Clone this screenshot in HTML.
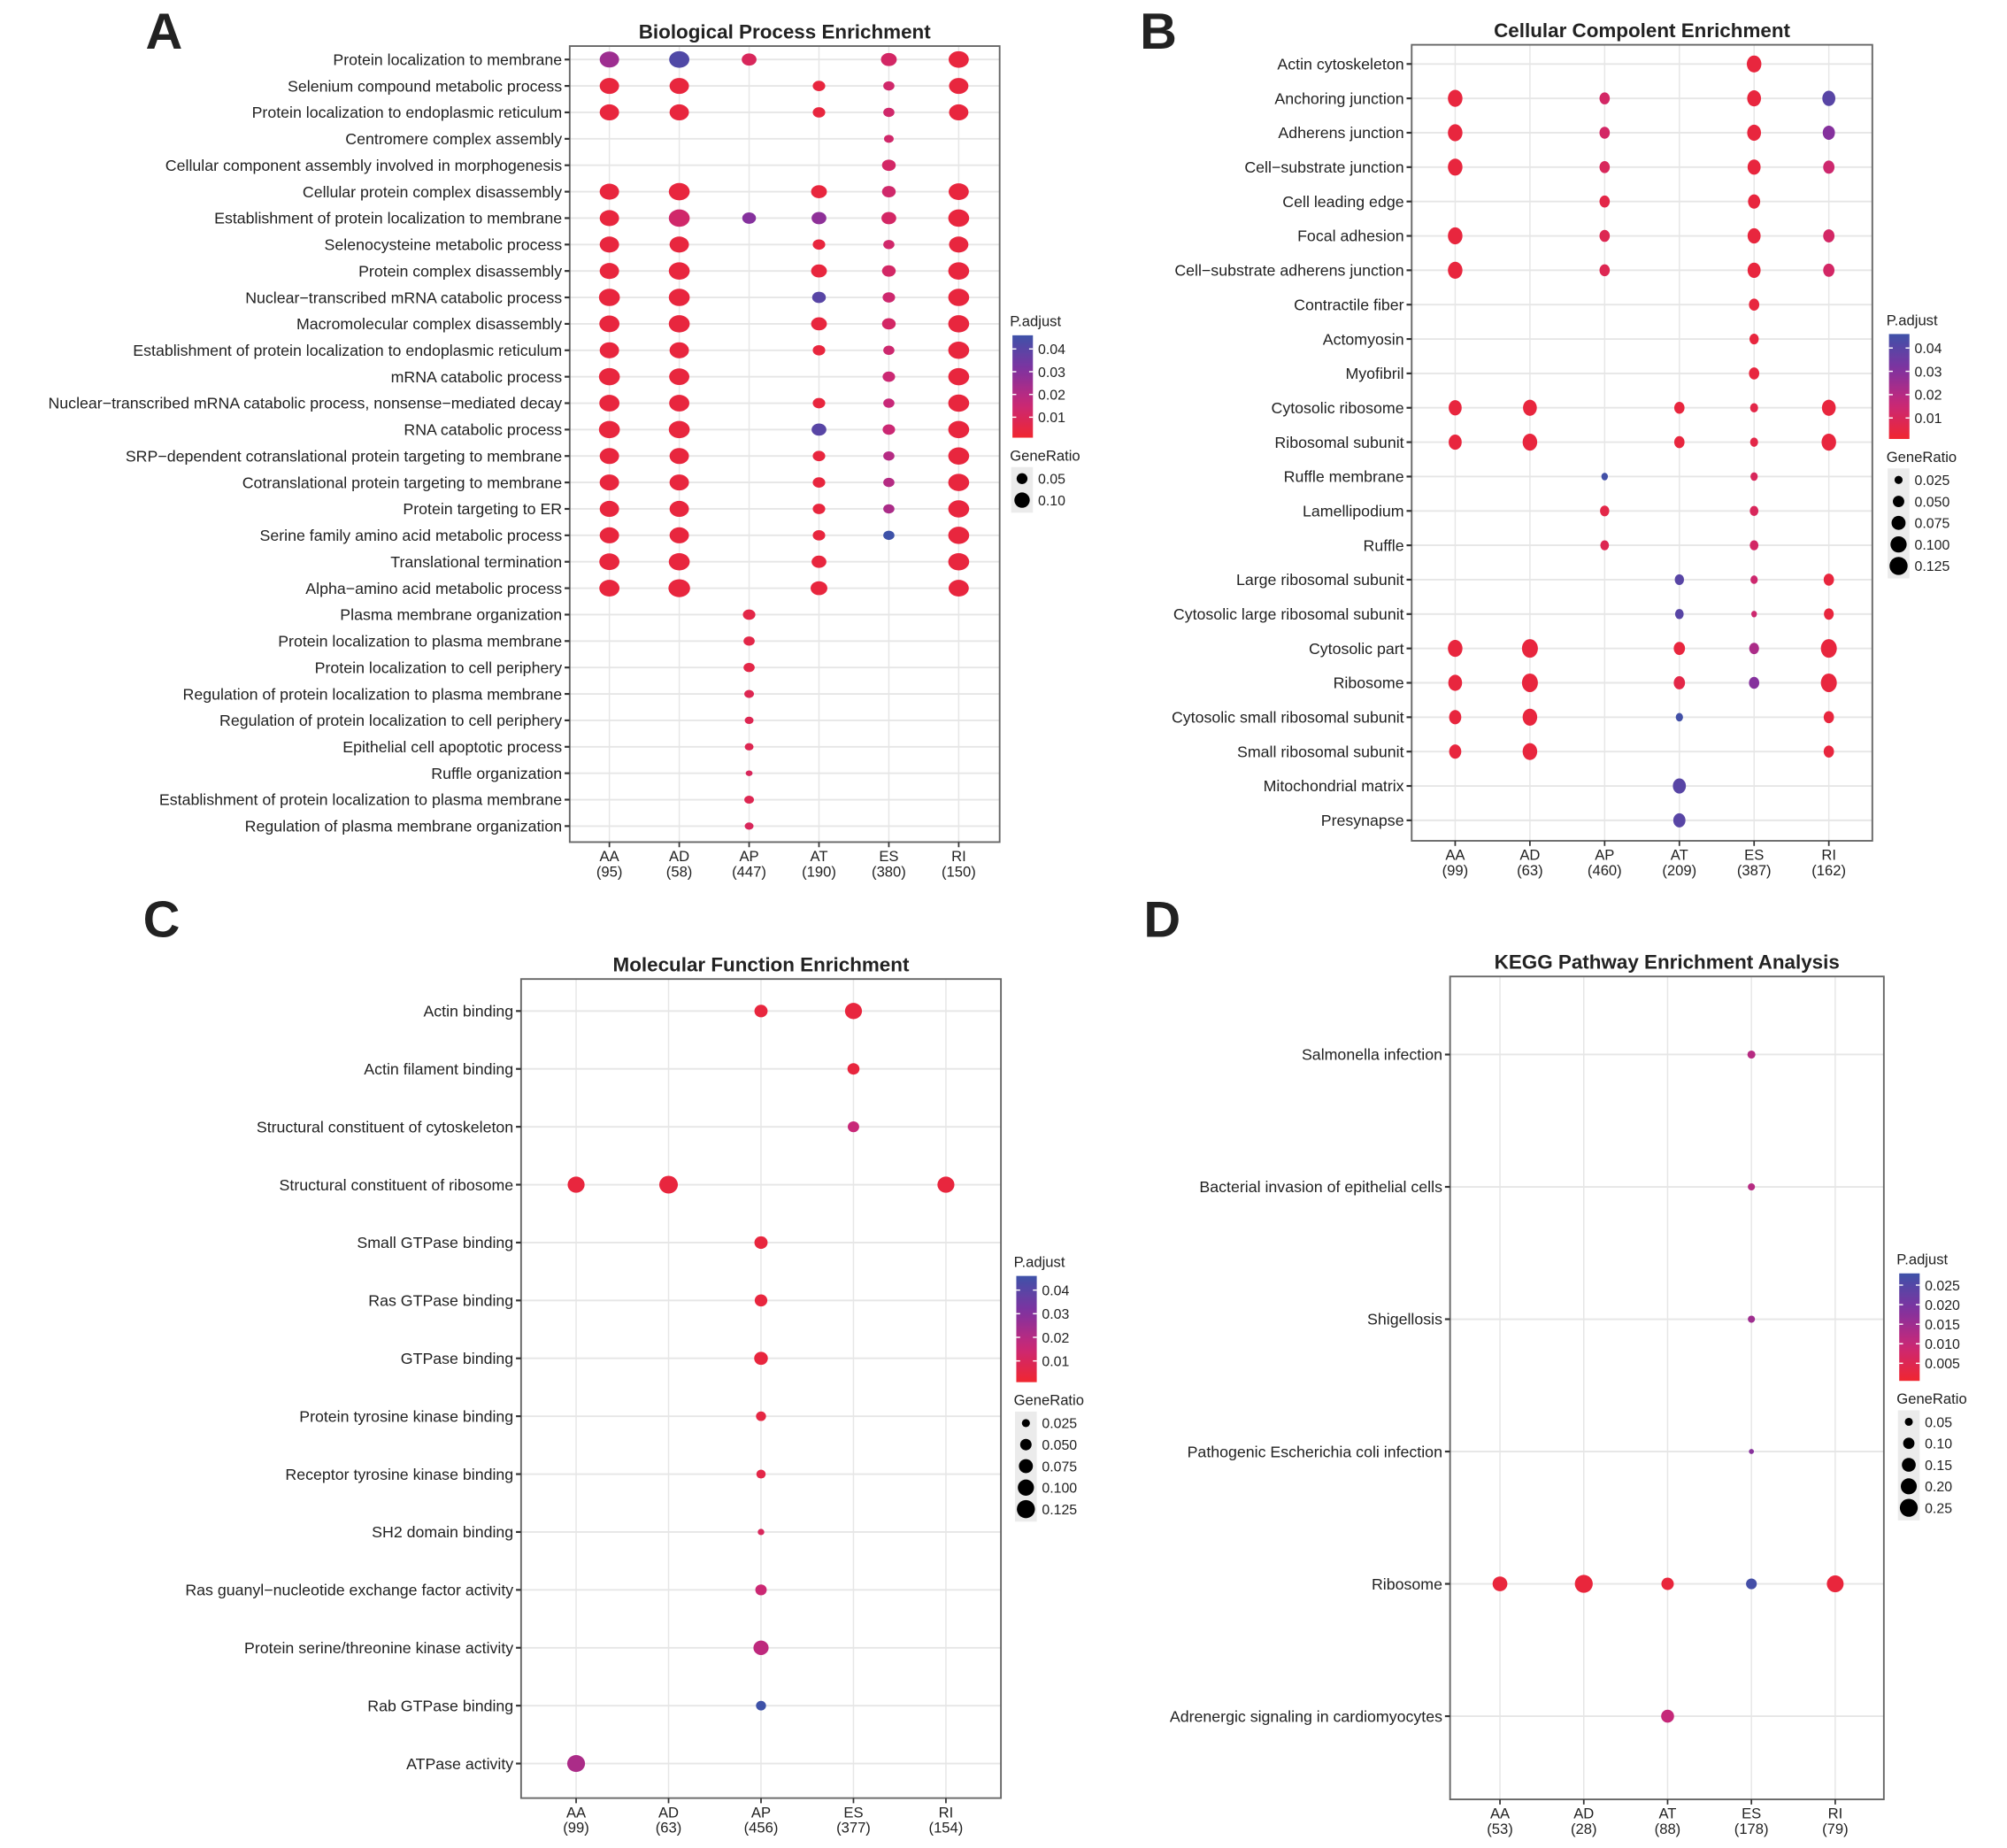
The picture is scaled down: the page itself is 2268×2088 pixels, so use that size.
<!DOCTYPE html>
<html><head><meta charset="utf-8"><style>
html,body{margin:0;padding:0;background:#fff}
svg{display:block}
text{font-family:"Liberation Sans",Arial,sans-serif;fill:#222}
</style></head><body>
<svg id="fig" width="2268" height="2088" viewBox="0 0 1568 1444" xmlns="http://www.w3.org/2000/svg"></svg>
<script>
// ---------- Panel A data ----------
const aRows=["Protein localization to membrane","Selenium compound metabolic process","Protein localization to endoplasmic reticulum","Centromere complex assembly","Cellular component assembly involved in morphogenesis","Cellular protein complex disassembly","Establishment of protein localization to membrane","Selenocysteine metabolic process","Protein complex disassembly","Nuclear\u2212transcribed mRNA catabolic process","Macromolecular complex disassembly","Establishment of protein localization to endoplasmic reticulum","mRNA catabolic process","Nuclear\u2212transcribed mRNA catabolic process, nonsense\u2212mediated decay","RNA catabolic process","SRP\u2212dependent cotranslational protein targeting to membrane","Cotranslational protein targeting to membrane","Protein targeting to ER","Serine family amino acid metabolic process","Translational termination","Alpha\u2212amino acid metabolic process","Plasma membrane organization","Protein localization to plasma membrane","Protein localization to cell periphery","Regulation of protein localization to plasma membrane","Regulation of protein localization to cell periphery","Epithelial cell apoptotic process","Ruffle organization","Establishment of protein localization to plasma membrane","Regulation of plasma membrane organization"];
const aCols=["AA","AD","AP","AT","ES","RI"];
const aCounts=["(95)","(58)","(447)","(190)","(380)","(150)"];
const aRatio=[
[.12,.13,.07,0,.08,.13],[.12,.12,0,.05,.04,.12],[.12,.12,0,.05,.04,.12],[0,0,0,0,.03,0],[0,0,0,0,.06,0],
[.12,.14,0,.08,.06,.13],[.12,.14,.06,.07,.07,.14],[.12,.12,0,.05,.04,.12],[.12,.14,0,.08,.06,.14],[.14,.14,0,.06,.05,.14],
[.13,.14,0,.08,.06,.14],[.12,.12,0,.05,.04,.14],[.14,.13,0,0,.05,.14],[.13,.13,0,.05,.04,.14],[.14,.14,0,.07,.05,.14],
[.12,.12,0,.05,.04,.14],[.12,.12,0,.05,.04,.14],[.12,.12,0,.05,.04,.14],[.12,.12,0,.05,.04,.14],[.13,.14,0,.07,0,.14],
[.13,.15,0,.09,0,.13],[0,0,.05,0,0,0],[0,0,.04,0,0,0],[0,0,.04,0,0,0],[0,0,.03,0,0,0],[0,0,.025,0,0,0],[0,0,.025,0,0,0],[0,0,.015,0,0,0],[0,0,.03,0,0,0],[0,0,.025,0,0,0]];
const aPadj=[
[.025,.042,.01,0,.012,.004],[.004,.004,0,.004,.013,.004],[.004,.004,0,.004,.013,.004],[0,0,0,0,.013,0],[0,0,0,0,.012,0],
[.004,.004,0,.004,.013,.004],[.004,.013,.03,.028,.012,.004],[.004,.004,0,.004,.013,.004],[.004,.004,0,.004,.012,.004],[.004,.004,0,.04,.014,.004],
[.004,.004,0,.004,.012,.004],[.004,.004,0,.004,.014,.004],[.004,.004,0,0,.015,.004],[.004,.004,0,.004,.016,.004],[.004,.004,0,.04,.015,.004],
[.004,.004,0,.004,.02,.004],[.004,.004,0,.004,.02,.004],[.004,.004,0,.004,.022,.004],[.004,.004,0,.004,.046,.004],[.004,.004,0,.004,0,.004],
[.004,.004,0,.004,0,.004],[0,0,.006,0,0,0],[0,0,.006,0,0,0],[0,0,.006,0,0,0],[0,0,.008,0,0,0],[0,0,.008,0,0,0],[0,0,.008,0,0,0],[0,0,.01,0,0,0],[0,0,.008,0,0,0],[0,0,.01,0,0,0]];
const aPTicks=[0.01,0.02,0.03,0.04];
const aSizeTicks=[0.05,0.10];
const aSizeLabels=["0.05","0.10"];

// ---------- Panel B data ----------
const bRows=["Actin cytoskeleton","Anchoring junction","Adherens junction","Cell\u2212substrate junction","Cell leading edge","Focal adhesion","Cell\u2212substrate adherens junction","Contractile fiber","Actomyosin","Myofibril","Cytosolic ribosome","Ribosomal subunit","Ruffle membrane","Lamellipodium","Ruffle","Large ribosomal subunit","Cytosolic large ribosomal subunit","Cytosolic part","Ribosome","Cytosolic small ribosomal subunit","Small ribosomal subunit","Mitochondrial matrix","Presynapse"];
const bCols=["AA","AD","AP","AT","ES","RI"];
const bCounts=["(99)","(63)","(460)","(209)","(387)","(162)"];
const bRatio=[
[0,0,0,0,.10,0],[.10,0,.05,0,.09,.08],[.10,0,.05,0,.09,.07],[.10,0,.05,0,.08,.06],[0,0,.05,0,.07,0],[.10,0,.05,0,.08,.06],[.10,0,.05,0,.08,.06],
[0,0,0,0,.05,0],[0,0,0,0,.04,0],[0,0,0,0,.05,0],[.08,.09,0,.05,.03,.09],[.08,.10,0,.05,.03,.10],[0,0,.02,0,.025,0],[0,0,.04,0,.035,0],[0,0,.035,0,.035,0],
[0,0,0,.04,.025,.05],[0,0,0,.035,.015,.045],[.10,.12,0,.06,.045,.12],[.09,.12,0,.06,.05,.12],[.07,.10,0,.025,0,.05],[.07,.10,0,0,0,.05],[0,0,0,.08,0,0],[0,0,0,.07,0,0]];
const bPadj=[
[0,0,0,0,.004,0],[.004,0,.012,0,.004,.04],[.004,0,.012,0,.004,.03],[.004,0,.01,0,.004,.014],[0,0,.006,0,.004,0],[.004,0,.008,0,.004,.012],[.004,0,.008,0,.004,.012],
[0,0,0,0,.004,0],[0,0,0,0,.004,0],[0,0,0,0,.004,0],[.004,.004,0,.004,.006,.004],[.004,.004,0,.004,.006,.004],[0,0,.045,0,.01,0],[0,0,.006,0,.01,0],[0,0,.008,0,.012,0],
[0,0,0,.04,.014,.004],[0,0,0,.04,.014,.004],[.004,.004,0,.004,.022,.004],[.004,.004,0,.006,.03,.004],[.004,.004,0,.045,0,.004],[.004,.004,0,0,0,.004],[0,0,0,.04,0,0],[0,0,0,.04,0,0]];
const bPTicks=[0.01,0.02,0.03,0.04];
const bSizeTicks=[0.025,0.05,0.075,0.1,0.125];
const bSizeLabels=["0.025","0.050","0.075","0.100","0.125"];

// ---------- Panel C data ----------
const cRows=["Actin binding","Actin filament binding","Structural constituent of cytoskeleton","Structural constituent of ribosome","Small GTPase binding","Ras GTPase binding","GTPase binding","Protein tyrosine kinase binding","Receptor tyrosine kinase binding","SH2 domain binding","Ras guanyl\u2212nucleotide exchange factor activity","Protein serine/threonine kinase activity","Rab GTPase binding","ATPase activity"];
const cCols=["AA","AD","AP","ES","RI"];
const cCounts=["(99)","(63)","(456)","(377)","(154)"];
const cRatio=[[0,0,.06,.10,0],[0,0,0,.05,0],[0,0,0,.045,0],[.10,.12,0,0,.10],[0,0,.06,0,0],[0,0,.055,0,0],[0,0,.065,0,0],[0,0,.035,0,0],[0,0,.03,0,0],[0,0,.015,0,0],[0,0,.045,0,0],[0,0,.08,0,0],[0,0,.035,0,0],[.11,0,0,0,0]];
const cPadj=[[0,0,.004,.004,0],[0,0,0,.004,0],[0,0,0,.016,0],[.004,.004,0,0,.004],[0,0,.004,0,0],[0,0,.004,0,0],[0,0,.004,0,0],[0,0,.005,0,0],[0,0,.006,0,0],[0,0,.01,0,0],[0,0,.015,0,0],[0,0,.018,0,0],[0,0,.046,0,0],[.022,0,0,0,0]];
const cPTicks=[0.01,0.02,0.03,0.04];
const cSizeTicks=[0.025,0.05,0.075,0.1,0.125];
const cSizeLabels=["0.025","0.050","0.075","0.100","0.125"];

// ---------- Panel D data ----------
const dRows=["Salmonella infection","Bacterial invasion of epithelial cells","Shigellosis","Pathogenic Escherichia coli infection","Ribosome","Adrenergic signaling in cardiomyocytes"];
const dCols=["AA","AD","AT","ES","RI"];
const dCounts=["(53)","(28)","(88)","(178)","(79)"];
const dRatio=[[0,0,0,.05,0],[0,0,0,.04,0],[0,0,0,.04,0],[0,0,0,.02,0],[.17,.25,.12,.09,.22],[0,0,.13,0,0]];
const dPadj=[[0,0,0,.012,0],[0,0,0,.012,0],[0,0,0,.015,0],[0,0,0,.018,0],[.002,.002,.002,.027,.002],[0,0,.01,0,0]];
const dPTicks=[0.005,0.01,0.015,0.02,0.025];
const dPLabels=["0.005","0.010","0.015","0.020","0.025"];
const dSizeTicks=[0.05,0.1,0.15,0.2,0.25];
const dSizeLabels=["0.05","0.10","0.15","0.20","0.25"];

const NS="http://www.w3.org/2000/svg";
const svg=document.getElementById('fig');
function mk(tag,attrs,parent){const e=document.createElementNS(NS,tag);for(const k in attrs)e.setAttribute(k,attrs[k]);(parent||svg).appendChild(e);return e;}
function lerp(a,b,t){return Math.round(a+(b-a)*t);}
function pcol(p,pmin,pmax){let t=(p-pmin)/(pmax-pmin);t=Math.max(0,Math.min(1,t));
  const s=[[240,38,48],[200,40,120],[128,50,160],[62,82,168]];
  const f=t*3,i=Math.min(2,Math.floor(f)),u=f-i;
  return `rgb(${lerp(s[i][0],s[i+1][0],u)},${lerp(s[i][1],s[i+1][1],u)},${lerp(s[i][2],s[i+1][2],u)})`;}

function panel(o){
  const g=mk('g',{});
  
  
  const nr=o.rows.length,nc=o.cols.length;
  const yS=i=>o.y0+(o.y1-o.y0)*i/(nr-1);
  const xS=j=>o.x0+(o.x1-o.x0)*j/(nc-1);
  const rS=v=>o.k*Math.sqrt(v);
  const L=mk('text',{x:o.lx,y:o.ly,'font-size':40,'font-weight':'bold','text-anchor':'middle'},g);L.textContent=o.letter;
  
  const T=mk('text',{x:(o.bx0+o.bx1)/2,y:o.by0-6,'font-size':15.5,'font-weight':'bold','text-anchor':'middle'},g);T.textContent=o.title;
  
  for(let i=0;i<nr;i++){const l=mk('line',{x1:o.bx0,x2:o.bx1,y1:yS(i),y2:yS(i),stroke:'#e6e6e6','stroke-width':1.3},g);
    }
  for(let j=0;j<nc;j++){const l=mk('line',{x1:xS(j),x2:xS(j),y1:o.by0,y2:o.by1,stroke:'#e6e6e6','stroke-width':1},g);
    }
  const b=mk('rect',{x:o.bx0,y:o.by0,width:o.bx1-o.bx0,height:o.by1-o.by0,fill:'none',stroke:'#666','stroke-width':1.3},g);
  
  for(let i=0;i<nr;i++){
    const t=mk('text',{x:o.bx0-6,y:yS(i)+4.3,'font-size':o.fs,'text-anchor':'end'},g);t.textContent=o.rows[i];
    
    mk('line',{x1:o.bx0-4,x2:o.bx0,y1:yS(i),y2:yS(i),stroke:'#333','stroke-width':1.5},g);
  }
  for(let j=0;j<nc;j++){
    mk('line',{x1:xS(j),x2:xS(j),y1:o.by1,y2:o.by1+4,stroke:'#333','stroke-width':1.2},g);
    const t=mk('text',{x:xS(j),y:o.by1+15,'font-size':11.5,'text-anchor':'middle'},g);t.textContent=o.cols[j];
    
    const c=mk('text',{x:xS(j),y:o.by1+27,'font-size':11.5,'text-anchor':'middle'},g);c.textContent=o.counts[j];
    
  }
  for(let i=0;i<nr;i++)for(let j=0;j<nc;j++){const v=o.ratio[i][j];if(!v)continue;
    const r=rS(v);
    const e=mk('ellipse',{cx:xS(j),cy:yS(i),rx:r*o.ax,ry:r*o.ay,fill:pcol(o.padj[i][j],o.pmin,o.pmax)},g);
    }
  const gid='grad'+o.letter;
  const defs=mk('defs',{},g);const lg=mk('linearGradient',{id:gid,x1:0,y1:1,x2:0,y2:0},defs);
  for(let s=0;s<=10;s++)mk('stop',{offset:s/10,'stop-color':pcol(o.pmin+(o.pmax-o.pmin)*s/10,o.pmin,o.pmax)},lg);
  const pt=mk('text',{x:o.legx,y:o.legy,'font-size':11.5},g);pt.textContent='P.adjust';
  
  const cbTop=o.legy+7,cbH=o.cbH;
  const cb=mk('rect',{x:o.legx+2,y:cbTop,width:16,height:cbH,fill:`url(#${gid})`},g);
  
  const pY=p=>cbTop+cbH*(1-(p-o.pmin)/(o.pmax-o.pmin));
  o.pticks.forEach((p,k)=>{const y=pY(p);
    mk('line',{x1:o.legx+2,x2:o.legx+5,y1:y,y2:y,stroke:'#fff'},g);mk('line',{x1:o.legx+15,x2:o.legx+18,y1:y,y2:y,stroke:'#fff'},g);
    const t=mk('text',{x:o.legx+22,y:y+4,'font-size':11},g);t.textContent=o.plabels?o.plabels[k]:p.toFixed(2);
    });
  const sy=cbTop+cbH+18;
  const st=mk('text',{x:o.legx,y:sy,'font-size':11.5},g);st.textContent='GeneRatio';
  
  const n=o.sticks.length;
  const kb=mk('rect',{x:o.legx+1,y:sy+5,width:17,height:n*16.8+2,fill:'#ebebeb'},g);
  
  o.sticks.forEach((v,k)=>{const y=sy+14+k*16.8;
    const c=mk('circle',{cx:o.legx+9.5,cy:y,r:rS(v),fill:'#000'},g);
    
    const t=mk('text',{x:o.legx+22,y:y+4,'font-size':11},g);t.textContent=o.slabels[k];
    });
}

panel({name:'panel-a-biological-process',letter:'A',lx:128,ly:38,title:'Biological Process Enrichment',rows:aRows,cols:aCols,counts:aCounts,ratio:aRatio,padj:aPadj,
  bx0:445,bx1:781,by0:36,by1:658,x0:476,x1:749,y0:46.5,y1:645.5,k:19,ax:1.15,ay:0.95,fs:12.3,pmin:0.001,pmax:0.046,pticks:aPTicks,sticks:aSizeTicks,slabels:aSizeLabels,legx:789,legy:255,cbH:80});
panel({name:'panel-b-cellular-component',letter:'B',lx:905,ly:38,title:'Cellular Compolent Enrichment',rows:bRows,cols:bCols,counts:bCounts,ratio:bRatio,padj:bPadj,
  bx0:1103,bx1:1463,by0:35,by1:657,x0:1137,x1:1429,y0:50,y1:641,k:20,ax:0.9,ay:1.05,fs:12.3,pmin:0.001,pmax:0.046,pticks:bPTicks,sticks:bSizeTicks,slabels:bSizeLabels,legx:1474,legy:254,cbH:82});
panel({name:'panel-c-molecular-function',letter:'C',lx:126,ly:732,title:'Molecular Function Enrichment',rows:cRows,cols:cCols,counts:cCounts,ratio:cRatio,padj:cPadj,
  bx0:407,bx1:782,by0:765,by1:1405,x0:450,x1:739,y0:790,y1:1378,k:20,ax:1.05,ay:1.0,fs:12.3,pmin:0.001,pmax:0.046,pticks:cPTicks,sticks:cSizeTicks,slabels:cSizeLabels,legx:792,legy:990,cbH:83});
panel({name:'panel-d-kegg-pathway',letter:'D',lx:908,ly:732,title:'KEGG Pathway Enrichment Analysis',rows:dRows,cols:dCols,counts:dCounts,ratio:dRatio,padj:dPadj,
  bx0:1133,bx1:1472,by0:763,by1:1406,x0:1172,x1:1434,y0:824,y1:1341,k:14,ax:1.0,ay:1.0,fs:12.3,pmin:0.0005,pmax:0.028,pticks:dPTicks,plabels:dPLabels,sticks:dSizeTicks,slabels:dSizeLabels,legx:1482,legy:988,cbH:84});
</script>
</body></html>
